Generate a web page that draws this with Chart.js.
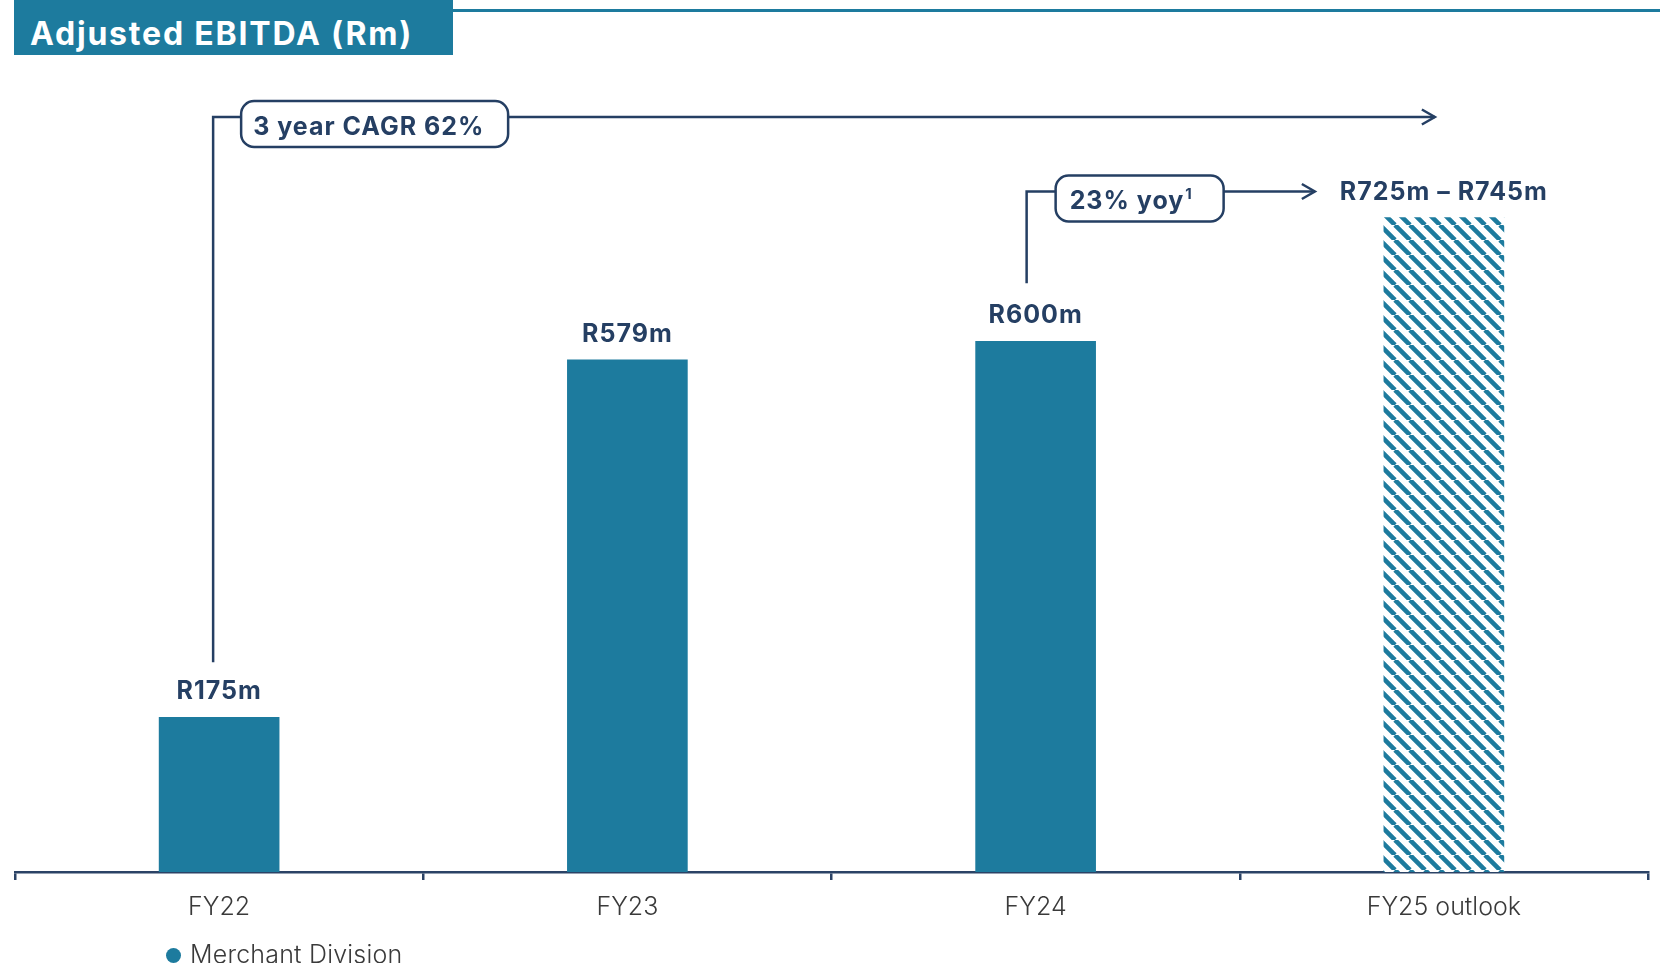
<!DOCTYPE html>
<html>
<head>
<meta charset="utf-8">
<script src="https://cdn.jsdelivr.net/npm/chart.js@4.4.1/dist/chart.umd.min.js"></script>
<style>
  html, body { margin: 0; padding: 0; background: #fff; overflow: hidden; }
  body { width: 1660px; height: 963px; position: relative; font-family: Inter, "Noto Sans", sans-serif; }
  #title {
    position: absolute; left: 14px; top: 0; width: 439px; height: 55px;
    background: #1d7b9e; color: #fff; font-weight: 700; font-size: 32px; letter-spacing: 1.8px;
    box-sizing: border-box; padding-left: 16px; line-height: 32px; padding-top: 18px; white-space: nowrap;
  }
  #topline { position: absolute; left: 453px; right: 0; top: 9px; height: 3px; background: #1d7b9e; }
  #chartBox { position: absolute; left: 0; top: 0; width: 1660px; height: 963px; }
  #legend {
    position: absolute; left: 166px; top: 939px; font-size: 25px; font-weight: 300;
    color: #3a3a3a; line-height: 30px; white-space: nowrap; letter-spacing: 0.2px;
  }
  #legend .dot {
    display: inline-block; width: 15px; height: 15px; border-radius: 50%;
    background: #1d7b9e; margin-right: 9px; vertical-align: middle; position: relative; top: -1px;
  }
</style>
</head>
<body>
<div id="title">Adjusted EBITDA (Rm)</div>
<div id="topline"></div>
<div id="chartBox"><canvas id="ebitdaChart" width="1660" height="963"></canvas></div>
<div id="legend"><span class="dot"></span><span id="legendText"></span></div>
<script>
const categories = ['FY22', 'FY23', 'FY24', 'FY25 outlook'];
const ebitda = [175, 579, 600, 740];
const valueLabels = ['R175m', 'R579m', 'R600m', 'R725m \u2013 R745m'];
const seriesName = 'Merchant Division';
const cagrText = '3 year CAGR 62%';
const yoyText = '23% yoy';
const yoyNote = '1';

const teal = '#1d7b9e';
const navy = '#253f63';
const boldFont = '700 25px Inter, "Noto Sans", sans-serif';

document.getElementById('legendText').textContent = seriesName;

// diagonal hatch for the outlook bar
function makeHatch() {
  const s = 15;
  const c = document.createElement('canvas');
  c.width = s; c.height = s;
  const p = c.getContext('2d');
  p.fillStyle = '#fff';
  p.fillRect(0, 0, s, s);
  p.strokeStyle = teal;
  p.lineWidth = 4.6;
  p.beginPath();
  for (let x0 = -s; x0 <= s; x0 += s) {
    p.moveTo(x0, 0);
    p.lineTo(x0 + s, s);
  }
  p.stroke();
  const ctx = document.getElementById('ebitdaChart').getContext('2d');
  return ctx.createPattern(c, 'repeat');
}

const barColors = [teal, teal, teal, makeHatch()];

function arrowHead(ctx, x, y) {
  ctx.beginPath();
  ctx.moveTo(x - 13, y - 7.5);
  ctx.lineTo(x, y);
  ctx.lineTo(x - 13, y + 7.5);
  ctx.stroke();
}

function roundBox(ctx, x, y, w, h, r) {
  ctx.beginPath();
  ctx.moveTo(x + r, y);
  ctx.lineTo(x + w - r, y);
  ctx.arcTo(x + w, y, x + w, y + r, r);
  ctx.lineTo(x + w, y + h - r);
  ctx.arcTo(x + w, y + h, x + w - r, y + h, r);
  ctx.lineTo(x + r, y + h);
  ctx.arcTo(x, y + h, x, y + h - r, r);
  ctx.lineTo(x, y + r);
  ctx.arcTo(x, y, x + r, y, r);
  ctx.closePath();
  ctx.fillStyle = '#fff';
  ctx.fill();
  ctx.stroke();
}

const labelsPlugin = {
  id: 'valueLabels',
  afterDatasetsDraw(chart) {
    const ctx = chart.ctx;
    const bars = chart.getDatasetMeta(0).data;
    ctx.save();
    ctx.font = boldFont;
    ctx.letterSpacing = '1px';
    ctx.fillStyle = navy;
    ctx.textAlign = 'center';
    ctx.textBaseline = 'alphabetic';
    bars.forEach((bar, i) => {
      ctx.fillText(valueLabels[i], bar.x, bar.y - 18);
    });
    ctx.restore();
  }
};

const growthPlugin = {
  id: 'growthArrows',
  afterDraw(chart) {
    const ctx = chart.ctx;
    const bars = chart.getDatasetMeta(0).data;
    const b0 = bars[0], b2 = bars[2], b3 = bars[3];
    ctx.save();
    ctx.strokeStyle = navy;
    ctx.lineWidth = 2.5;
    ctx.font = boldFont;
    ctx.letterSpacing = '1px';
    ctx.textAlign = 'left';

    // 3 year CAGR
    const x0 = b0.x - 6;
    const yA = chart.chartArea.top + 41;
    ctx.beginPath();
    ctx.moveTo(x0, b0.y - 55);
    ctx.lineTo(x0, yA);
    ctx.lineTo(x0 + 28, yA);
    ctx.stroke();
    const boxA = x0 + 28;
    const tipA = b3.x - 9;
    ctx.beginPath();
    ctx.moveTo(boxA + 267, yA);
    ctx.lineTo(tipA, yA);
    ctx.stroke();
    arrowHead(ctx, tipA, yA);
    roundBox(ctx, boxA, yA - 16, 267, 46, 13);
    ctx.fillStyle = navy;
    ctx.fillText(cagrText, boxA + 12, yA + 18);

    // 23% yoy
    const x1 = b2.x - 9;
    const yB = b3.y - 26;
    ctx.beginPath();
    ctx.moveTo(x1, b2.y - 58);
    ctx.lineTo(x1, yB);
    ctx.lineTo(x1 + 29, yB);
    ctx.stroke();
    const boxB = x1 + 29;
    const outW = ctx.measureText(valueLabels[3]).width;
    const tipB = b3.x - outW / 2 - 25;
    ctx.beginPath();
    ctx.moveTo(boxB + 168, yB);
    ctx.lineTo(tipB, yB);
    ctx.stroke();
    arrowHead(ctx, tipB, yB);
    roundBox(ctx, boxB, yB - 16, 168, 46, 13);
    ctx.fillStyle = navy;
    ctx.fillText(yoyText, boxB + 14, yB + 17);
    const yw = ctx.measureText(yoyText).width;
    ctx.font = '700 15px Inter, "Noto Sans", sans-serif';
    ctx.fillText(yoyNote, boxB + 14 + yw + 1, yB + 7);
    ctx.restore();
  }
};

new Chart(document.getElementById('ebitdaChart'), {
  type: 'bar',
  data: {
    labels: categories,
    datasets: [{
      label: seriesName,
      data: ebitda,
      backgroundColor: barColors,
      borderWidth: 0,
      barThickness: 120
    }]
  },
  options: {
    responsive: false,
    animation: false,
    layout: { padding: { left: 15, right: 12, top: 76, bottom: 0 } },
    plugins: { legend: { display: false }, tooltip: { enabled: false } },
    scales: {
      x: {
        grid: { offset: true, drawOnChartArea: false, drawTicks: true, tickLength: 8, color: '#2b4366', lineWidth: 2.5 },
        border: { color: '#2b4366', width: 2.5 },
        ticks: { color: '#3a3a3a', padding: 12, font: { family: 'Inter', size: 25, weight: 300 } },
        afterFit: (s) => { s.height = 91; }
      },
      y: { display: false, min: 0, max: 900 }
    }
  },
  plugins: [labelsPlugin, growthPlugin]
});
</script>
</body>
</html>
